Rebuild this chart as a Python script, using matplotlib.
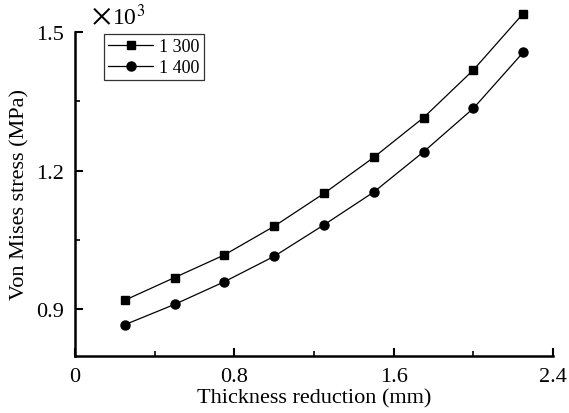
import matplotlib
matplotlib.use("Agg")
import matplotlib.pyplot as plt
from matplotlib.ticker import MultipleLocator

plt.rcParams['font.family'] = ['Liberation Serif', 'DejaVu Serif']
plt.rcParams['mathtext.fontset'] = 'stix'

# thickness reduction (mm)
thickness = [0.25, 0.50, 0.75, 1.00, 1.25, 1.50, 1.75, 2.00, 2.25]
# von Mises stress (x10^3 MPa)
stress_1300 = [0.920, 0.969, 1.018, 1.080, 1.151, 1.229, 1.315, 1.418, 1.540]
stress_1400 = [0.867, 0.911, 0.960, 1.015, 1.083, 1.154, 1.241, 1.335, 1.456]
labels = ["1 300", "1 400"]

fig = plt.figure(figsize=(5.69, 4.14), dpi=100)
ax = fig.add_axes([0.1318, 0.1384, 0.8401, 0.7816])

ax.plot(thickness, stress_1300, color='k', lw=0.9, marker='s', ms=6, label=labels[0], clip_on=False)
ax.plot(thickness, stress_1400, color='k', lw=0.9, marker='o', ms=6.5, label=labels[1], clip_on=False)

ax.set_xlim(0, 2.4)
ax.set_ylim(0.8, 1.5)
ax.xaxis.set_minor_locator(MultipleLocator(0.4))
ax.yaxis.set_minor_locator(MultipleLocator(0.15))
ax.set_yticks([0.9, 1.2, 1.5])
ax.set_xticks([0, 0.8, 1.6, 2.4])
ax.set_xticklabels(["0", "0.8", "1.6", "2.4"])
ax.set_yticklabels(["0.9", "1.2", "1.5"])

for s in ['top', 'right']:
    ax.spines[s].set_visible(False)
for s in ['left', 'bottom']:
    ax.spines[s].set_linewidth(1.8)
ax.tick_params(which='major', direction='in', length=6, width=1.5, labelsize=16, pad=8)
ax.tick_params(which='minor', direction='in', length=3.5, width=1.2)

ax.set_xlabel("Thickness reduction (mm)", fontsize=16, labelpad=2)
ax.set_ylabel("Von Mises stress (MPa)", fontsize=16, labelpad=5)

# multiplier label
ax.text(0.034, 1.05, r"$\times$", transform=ax.transAxes, fontsize=22,
        ha='left', va='center')
ax.text(0.078, 1.05, r"10$^{3}$", transform=ax.transAxes, fontsize=17,
        ha='left', va='center')

leg = ax.legend(loc='upper left', bbox_to_anchor=(0.06, 0.995), fontsize=13,
                frameon=True, fancybox=False, edgecolor='k', handlelength=2.5,
                handletextpad=0.3, borderpad=0.25, labelspacing=0.2, borderaxespad=0)
leg.get_frame().set_linewidth(0.9)

fig.savefig("out.png", dpi=100)
